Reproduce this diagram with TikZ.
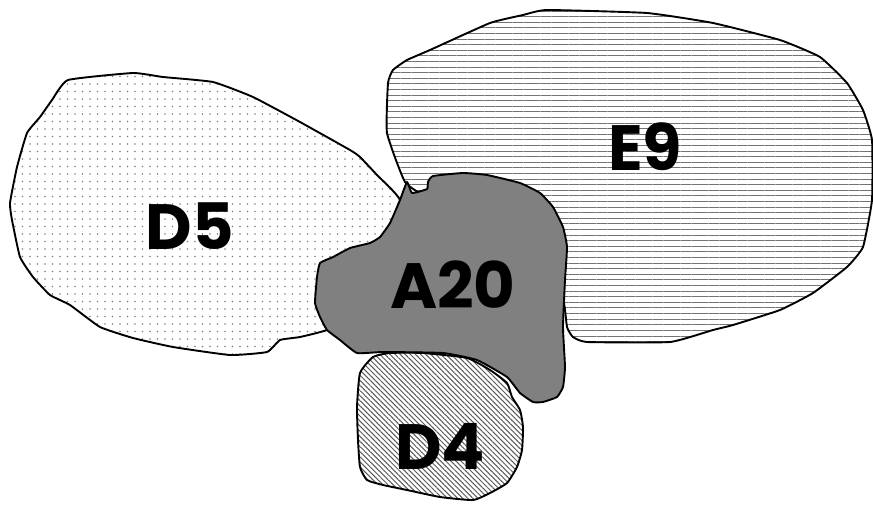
\documentclass[tikz,border=0pt]{standalone}
\usepackage{fontspec}
\newfontfamily\labfont{Poppins}
\usetikzlibrary{patterns.meta}
\tikzset{
  region/.style={draw=black, line width=1.9pt, line join=round},
  lab/.style={font=\labfont\bfseries\fontsize{64}{64}\selectfont, inner sep=0pt},
}
\begin{document}
\begin{tikzpicture}[x=1pt,y=-1pt]
\useasboundingbox (0,0) rectangle (873,504);
% D5
\path[region, fill=white, pattern={Dots[distance=7.5pt, radius=0.8pt]}, pattern color=black!50]
  plot[smooth cycle, tension=0.25] coordinates {
  (68,80) (133,73) (163,77) (213,82) (253,97) (300,122) (350,150) (360,157) (377,175)
  (400,200) (410,260) (370,310) (327,330) (300,337) (280,340) (267,352) (230,355)
  (173,347) (133,338) (100,327) (70,305) (50,295) (33,277) (20,257) (12,220) (10,203)
  (17,167) (27,133) (40,117) (52,100)};
% E9
\path[region, fill=white, pattern={Lines[angle=0, distance=5.6pt, line width=1pt]}, pattern color=black!55]
  plot[smooth cycle, tension=0.25] coordinates {
  (547,10) (647,13) (713,23) (780,40) (820,57) (847,83) (863,110) (872,140) (872,200)
  (863,247) (847,267) (813,293) (780,310) (733,325) (713,330) (670,342) (587,342)
  (573,337) (567,327) (560,290) (500,250) (430,200) (405,182) (387,133) (388,83)
  (393,70) (407,60) (430,50) (490,23) (523,15)};
% A20
\path[region, fill=black!50]
  plot[smooth cycle, tension=0.25] coordinates {
  (407,182) (412,193) (427,189) (428,182) (433,176) (463,173) (487,175) (520,183)
  (540,193) (553,207) (563,227) (567,247) (565,280) (563,327) (565,367) (563,387)
  (557,397) (543,402) (533,402) (520,393) (507,377) (477,360) (443,353) (383,352)
  (357,353) (340,340) (327,330) (320,317) (315,303) (317,277) (320,263) (333,257)
  (350,248) (370,243) (380,237) (390,223) (400,200)};
% D4
\path[region, fill=white, pattern={Lines[angle=-45, distance=3.6pt, line width=1pt]}, pattern color=black!65]
  plot[smooth cycle, tension=0.3] coordinates {
  (373,357) (390,353) (423,353) (467,358) (490,370) (507,383) (512,397) (520,410)
  (523,427) (522,450) (517,467) (507,483) (490,493) (473,500) (440,497) (407,490)
  (383,485) (367,480) (360,467) (358,440) (357,407) (360,373)};
% labels
\node[lab] (d5) at (190,226) {D5};
\node[lab] (e9) at (645,147) {E9};
\node[lab] (a20) at (453,285) {A20};
\node[lab] (d4) at (440,446) {D4};
\end{tikzpicture}
\end{document}
